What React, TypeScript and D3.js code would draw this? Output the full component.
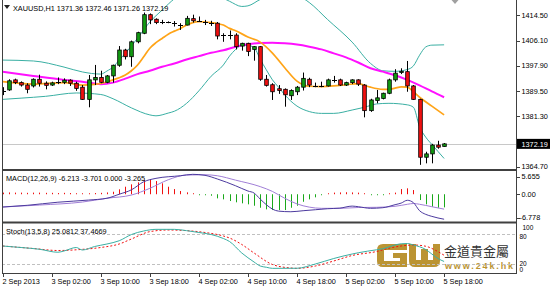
import React from "react";
import * as d3 from "d3";

const timeLabels = ["2 Sep 2013", "3 Sep 02:00", "3 Sep 10:00", "3 Sep 18:00", "4 Sep 02:00", "4 Sep 10:00", "4 Sep 18:00", "5 Sep 02:00", "5 Sep 10:00", "5 Sep 18:00"];
const timeLabelBars = [0, 8, 16, 24, 32, 40, 48, 56, 64, 72];

const open = [1389.7, 1389.9, 1393.2, 1392.3, 1391.5, 1391.2, 1393.4, 1392.1, 1391.5, 1392.6,
  1392.4, 1393.1, 1392.1, 1390.8, 1386.8, 1393.2, 1394.0, 1392.4, 1394.5, 1398.0,
  1403.0, 1400.8, 1405.7, 1408.5, 1414.6, 1413.1, 1412.1, 1412.1, 1411.8, 1411.2,
  1411.2, 1413.3, 1412.6, 1412.2, 1412.0, 1411.8, 1407.9, 1407.9, 1407.9, 1404.3,
  1405.2, 1403.2, 1404.1, 1393.4, 1391.6, 1390.3, 1390.1, 1388.0, 1389.3, 1390.8,
  1393.4, 1391.2, 1391.3, 1391.2, 1393.2, 1393.2, 1391.5, 1392.3, 1393.2, 1391.5,
  1383.1, 1386.4, 1387.1, 1388.8, 1393.2, 1395.6, 1395.9, 1391.2, 1386.8, 1367.8,
  1368.9, 1371.8, 1371.36];
const high = [1390.8, 1393.4, 1393.6, 1392.7, 1392.1, 1393.7, 1394.9, 1392.7, 1392.6, 1394.0,
  1393.7, 1393.4, 1392.6, 1391.5, 1394.8, 1398.1, 1396.2, 1394.8, 1398.2, 1404.3,
  1403.4, 1406.1, 1409.0, 1415.3, 1415.0, 1413.4, 1412.9, 1412.4, 1412.5, 1411.8,
  1414.2, 1414.6, 1414.0, 1412.9, 1412.6, 1412.2, 1408.5, 1409.4, 1408.5, 1405.4,
  1405.4, 1404.3, 1404.3, 1394.8, 1392.1, 1391.5, 1390.4, 1390.1, 1391.2, 1395.6,
  1393.9, 1392.3, 1392.6, 1393.6, 1394.5, 1393.6, 1392.6, 1393.4, 1393.4, 1391.8,
  1387.0, 1389.9, 1389.0, 1393.6, 1396.7, 1397.0, 1399.4, 1391.5, 1387.0, 1369.6,
  1372.2, 1373.2, 1372.46];
const low = [1388.2, 1389.6, 1391.8, 1391.0, 1388.8, 1390.7, 1391.0, 1390.1, 1391.2, 1391.8,
  1391.8, 1391.2, 1389.6, 1386.6, 1384.2, 1391.5, 1392.1, 1392.1, 1392.3, 1397.5,
  1399.9, 1397.5, 1405.2, 1408.2, 1411.5, 1411.5, 1411.5, 1411.8, 1410.7, 1409.6,
  1411.1, 1412.0, 1412.2, 1411.2, 1410.9, 1406.5, 1405.7, 1406.5, 1403.2, 1402.8,
  1401.0, 1399.5, 1392.9, 1391.0, 1386.6, 1388.6, 1384.4, 1386.6, 1388.2, 1389.7,
  1390.8, 1390.8, 1390.8, 1391.0, 1392.3, 1391.2, 1391.2, 1391.8, 1391.2, 1380.9,
  1382.7, 1385.5, 1386.8, 1388.5, 1392.6, 1395.1, 1389.3, 1386.6, 1365.3, 1365.8,
  1365.8, 1370.6, 1371.26];
const close = [1389.6, 1392.9, 1392.3, 1391.5, 1390.1, 1393.4, 1392.1, 1391.4, 1392.2, 1392.7,
  1393.1, 1392.1, 1390.4, 1386.8, 1393.2, 1394.0, 1392.4, 1394.5, 1398.0, 1403.0,
  1400.8, 1405.7, 1408.7, 1414.6, 1412.9, 1412.0, 1412.0, 1412.1, 1411.7, 1411.2,
  1413.4, 1412.6, 1412.7, 1412.2, 1411.9, 1407.6, 1408.0, 1407.9, 1404.1, 1405.2,
  1402.5, 1404.1, 1393.4, 1391.4, 1389.3, 1389.7, 1388.3, 1389.7, 1390.8, 1393.7,
  1391.5, 1391.2, 1391.4, 1393.2, 1393.1, 1391.5, 1392.3, 1393.2, 1391.8, 1383.1,
  1386.6, 1387.3, 1388.8, 1393.2, 1395.4, 1396.0, 1391.2, 1386.8, 1367.8, 1368.9,
  1371.8, 1371.1, 1372.19];

// indicator readings: [bar index, value]
const maFast = [[0, 1392.6], [5, 1391.8], [10, 1392.3], [13, 1391.5], [15, 1391.7], [17, 1392.5], [18, 1393.2], [19, 1393.9], [20, 1394.8], [21, 1396.2], [22, 1398.1], [23, 1400.8], [24, 1403.6], [25, 1405.4], [26, 1406.8], [27, 1408.2], [28, 1409.2], [29, 1410.1], [30, 1411.2], [31, 1412.0], [32, 1412.3], [33, 1412.2], [34, 1412.0], [35, 1411.7], [36, 1411.2], [37, 1410.1], [38, 1409.3], [40, 1407.3], [42, 1405.6], [44, 1402.0], [46, 1397.2], [48, 1392.8], [50, 1391.1], [52, 1391.0], [54, 1391.2], [56, 1391.6], [58, 1392.0], [59, 1391.4], [60, 1390.8], [62, 1390.1], [63, 1390.1], [64, 1390.5], [65, 1390.9], [66, 1390.8], [67, 1389.3], [68, 1387.5], [70, 1384.6], [72, 1381.7]];
const maSlow = [[0, 1395.9], [5, 1394.5], [10, 1393.2], [13, 1392.6], [16, 1391.8], [18, 1392.3], [20, 1393.6], [22, 1395.1], [24, 1396.2], [26, 1397.5], [28, 1398.6], [30, 1399.9], [32, 1401.0], [34, 1402.1], [36, 1402.9], [38, 1404.1], [40, 1404.9], [42, 1405.3], [44, 1405.4], [46, 1405.2], [48, 1404.8], [50, 1404.1], [52, 1403.2], [54, 1401.9], [56, 1400.6], [58, 1398.9], [60, 1397.0], [62, 1395.9], [64, 1394.7], [66, 1393.2], [68, 1391.4], [70, 1389.4], [72, 1387.5]];
const bandUpper = [[0, 1399.7], [5, 1399.4], [10, 1397.4], [13, 1395.8], [16, 1395.1], [17, 1396.1], [18, 1397.4], [19, 1399.7], [20, 1401.9], [22, 1406.9], [24, 1412.2], [26, 1416.1], [28, 1419.8], [31, 1422.6], [34, 1421.8], [37, 1419.0], [39, 1417.3], [40, 1417.5], [42, 1419.6], [45, 1422.0], [48, 1421.0], [50, 1418.6], [53, 1413.0], [57, 1405.6], [60, 1398.6], [62, 1396.2], [64, 1396.0], [66, 1396.6], [67, 1397.8], [68, 1401.3], [69, 1404.0], [70, 1404.6], [72, 1404.7]];
const bandLower = [[0, 1386.8], [3, 1387.2], [7, 1387.8], [12, 1388.9], [16, 1388.4], [18, 1387.0], [21, 1384.0], [24, 1381.7], [25, 1381.4], [27, 1382.3], [28, 1382.9], [30, 1385.5], [32, 1389.6], [34, 1394.4], [36, 1398.1], [37, 1401.0], [38, 1403.2], [39, 1404.5], [40, 1404.5], [41, 1403.8], [42, 1400.0], [43, 1396.5], [44, 1393.2], [45, 1390.8], [46, 1388.3], [48, 1384.6], [50, 1382.8], [52, 1382.2], [54, 1382.2], [57, 1383.3], [59, 1384.2], [61, 1385.3], [63, 1385.5], [66, 1385.0], [67, 1384.2], [68, 1377.8], [69, 1374.4], [70, 1372.0], [71, 1369.7], [72, 1367.4]];

const macdMain = [[0, -3.18], [4, -2.75], [9, -1.98], [14, -1.45], [17, -1.0], [19, 0.0], [21, 1.1], [23, 3.1], [25, 3.95], [29, 4.6], [31, 4.95], [33, 4.7], [35, 3.8], [38, 2.1], [40, 0.8], [41, 0.3], [42, -1.2], [43, -2.6], [44, -3.7], [45, -4.2], [47, -4.35], [49, -4.1], [51, -3.85], [53, -3.6], [55, -3.45], [57, -2.95], [58, -3.1], [60, -3.5], [62, -3.35], [64, -2.6], [65, -2.2], [66, -1.5], [67, -2.1], [68, -4.1], [69, -5.0], [70, -5.5], [71, -5.9], [72, -6.213]];
const macdSignal = [[0, -3.18], [6, -2.69], [13, -1.94], [17, -1.0], [21, -0.2], [24, 1.47], [27, 3.6], [30, 4.78], [33, 4.85], [35, 4.6], [38, 3.5], [42, 1.9], [44, 0.7], [46, -1.0], [48, -2.4], [50, -3.2], [52, -3.5], [55, -3.5], [58, -3.3], [61, -3.25], [64, -3.0], [66, -2.5], [67, -2.3], [68, -2.5], [70, -3.1], [72, -3.701]];
const macdHist = [0.4, 0.45, 0.4, 0.4, 0.35, 0.4, 0.4, 0.35, 0.35, 0.3, 0.35, 0.3, 0.25, 0.0, 0.05, 0.3, 0.35, 0.45, 0.62, 1.22,
  1.87, 2.46, 2.96, 3.53, 3.78, 3.28, 2.71, 1.87, 1.29, 0.8, 0.47, 0.22, -0.1, -0.15, -0.37, -1.02, -1.27, -1.69, -2.01, -2.26,
  -2.51, -2.86, -3.36, -3.76, -3.93, -3.93, -3.93, -3.36, -2.86, -1.87, -1.27, -0.77, -0.15, 0.2, 0.4, 0.45, 0.5, 0.45, 0.4, 0.1,
  -0.1, -0.15, -0.1, 0.1, 0.4, 1.29, 1.47, 1.04, -1.44, -2.51, -3.11, -3.36, -3.265];

const stochMain = [[0, 56], [3, 53], [6, 49.5], [9, 43.5], [10, 46], [12, 53], [13, 48], [15, 55], [17, 60], [19, 66.5], [21, 79], [23, 86], [25, 89.3], [28, 89.3], [30, 86.7], [32, 83], [34, 79], [36, 71], [37, 65], [39, 42], [41, 24], [42, 16], [43, 13.5], [44, 11.3], [48, 11.5], [51, 20], [54, 31], [57, 40], [58, 42.5], [61, 48.5], [62, 50.5], [64, 58], [65, 60.5], [66, 61], [67, 58], [69, 49], [70, 40], [71, 31], [72, 25.08]];
const stochSignal = [[0, 56], [5, 51], [9, 47], [13, 49.3], [16, 53], [19, 60], [21, 70], [24, 84.7], [27, 88], [30, 86.7], [33, 83], [36, 76], [37, 72], [39, 59], [41, 42], [44, 19], [47, 12], [48, 11.3], [51, 16], [54, 26], [57, 37], [61, 45], [63, 51.5], [65, 56], [67, 58], [69, 55.5], [71, 44.7], [72, 37.47]];

const priceTicks = [1414.5, 1406.1, 1397.9, 1389.5, 1381.3, 1364.7];
const lastPrice = 1372.19;
const macdTicks = [5.655, 0, -6.778];
const macdTickLabels = ["5.655", "0.00", "-6.778"];

const FONT = "'Liberation Sans', Arial, sans-serif";
const GREEN = "#129a12";
const RED = "#f01010";
const TEAL = "#3aafa3";

export default function App() {
  const x = d3.scaleLinear().domain([0, 72]).range([2.7, 444.1]);
  const yP = d3.scaleLinear().domain([1363.94, 1419.42]).range([169, 0]);
  const yM = d3.scaleLinear().domain([-6.778, 5.655]).range([221.5, 171.5]);
  const yS = d3.scaleLinear().domain([0, 100]).range([274, 224]);

  const mk = (ys: any) => d3.line<number[]>().x((d) => x(d[0])).y((d) => ys(d[1])).curve(d3.curveMonotoneX);
  const lineP = mk(yP);
  const lineM = mk(yM);
  const lineS = mk(yS);

  const px = (i: number) => Math.round(x(i)) + 0.5;

  return (
    <div style={{ position: "absolute", left: 0, top: 0 }}>
      <svg width={550} height={288} style={{ display: "block", background: "#fff" }} fontFamily={FONT} fontSize={7.3}>
        <defs>
          <clipPath id="cMain"><rect x={2.5} y={0} width={514} height={169} /></clipPath>
          <clipPath id="cMacd"><rect x={2.5} y={171.5} width={514} height={50} /></clipPath>
          <clipPath id="cSto"><rect x={2.5} y={223.5} width={514} height={50} /></clipPath>
        </defs>
        <rect x={0} y={0} width={550} height={288} fill="#fff" />

        {/* main panel */}
        <g clipPath="url(#cMain)">
          <line x1={2} x2={516} y1={Math.round(yP(lastPrice)) + 0.5} y2={Math.round(yP(lastPrice)) + 0.5} stroke="#c8c8c8" />
          <path d={lineP(bandUpper as any) || ""} fill="none" stroke={TEAL} strokeWidth={1} />
          <path d={lineP(bandLower as any) || ""} fill="none" stroke={TEAL} strokeWidth={1} />
          <path d={lineP(maSlow as any) || ""} fill="none" stroke="#ff10ff" strokeWidth={2} />
          <path d={lineP(maFast as any) || ""} fill="none" stroke="#ffa418" strokeWidth={1.7} />
          {open.map((o, i) => {
            const c = close[i];
            const cx = px(i);
            const doji = Math.abs(c - o) < 0.2;
            const top = yP(Math.max(o, c));
            const bot = yP(Math.min(o, c));
            return (
              <g key={i}>
                <line x1={cx} x2={cx} y1={yP(high[i])} y2={yP(low[i])} stroke="#000" strokeWidth={1} />
                {doji ? (
                  <line x1={cx - 2.5} x2={cx + 2.5} y1={Math.round(yP(o)) + 0.5} y2={Math.round(yP(o)) + 0.5} stroke="#000" strokeWidth={1} />
                ) : (
                  <rect x={cx - 1.8} y={top} width={3.6} height={Math.max(1, bot - top)} fill={c > o ? GREEN : RED} stroke="#000" strokeWidth={0.8} />
                )}
              </g>
            );
          })}
        </g>
        <polygon points="4,5 10,5 7,9" fill="#222" />
        <text x={13} y={10.5} fill="#000">XAUUSD,H1  1371.36 1372.46 1371.26 1372.19</text>
        <polygon points="451.5,0 458.5,0 455,4" fill="#a0a0a0" />

        {/* MACD panel */}
        <g clipPath="url(#cMacd)">
          {macdHist.map((v, i) => {
            const y0 = yM(0);
            let y1 = yM(v);
            if (Math.abs(y1 - y0) < 1) y1 = v >= 0 ? y0 - 1 : y0 + 1;
            return <line key={i} x1={px(i)} x2={px(i)} y1={y0} y2={y1} stroke={v >= 0 ? RED : "#1aa81a"} strokeWidth={1} />;
          })}
          <path d={lineM(macdSignal as any) || ""} fill="none" stroke="#a07ed6" strokeWidth={1} />
          <path d={lineM(macdMain as any) || ""} fill="none" stroke="#4c3a9e" strokeWidth={1} />
        </g>
        <text x={6} y={181} fill="#000">MACD(12,26,9) -6.213 -3.701 0.000 -3.265</text>

        {/* Stoch panel */}
        <g fill="#bb9433">
          <path d="M383,244 H407 V250 H384 V261 H400 V258 H393 V253 H407 V267 H383 Q377,267 377,261 V250 Q377,244 383,244 Z" />
          <path d="M409,244 H416 V260 H421 V249 H428 V260 H433 V244 H440 V261 Q440,267 434,267 H415 Q409,267 409,261 Z" />
        </g>
        <text x={444} y={255.5} fontSize={13} fontFamily="'Noto Sans CJK TC', 'Noto Sans CJK SC', sans-serif" fill="#333">金道貴金屬</text>
        <text x={445} y={268.5} fontSize={9} fontWeight="bold" fill="#bb9433" textLength={68} lengthAdjust="spacing">www.24k.hk</text>
        <g clipPath="url(#cSto)">
          {[80, 20].map((v) => (
            <line key={v} x1={2} x2={516} y1={Math.round(yS(v)) + 0.5} y2={Math.round(yS(v)) + 0.5} stroke="#c0c0c0" strokeDasharray="3,2" />
          ))}
          <path d={lineS(stochSignal as any) || ""} fill="none" stroke={RED} strokeWidth={1} strokeDasharray="2,2" />
          <path d={lineS(stochMain as any) || ""} fill="none" stroke={TEAL} strokeWidth={1} />
        </g>
        <text x={6} y={234} fill="#000">Stoch(13,5,8) 25.0812 37.4669</text>

        {/* frames */}
        <line x1={2.5} x2={2.5} y1={0} y2={274} stroke="#404040" />
        <line x1={516.5} x2={516.5} y1={0} y2={274} stroke="#404040" />
        <rect x={2} y={169} width={515} height={2} fill="#404040" />
        <rect x={2} y={221.5} width={515} height={2} fill="#404040" />
        <line x1={2} x2={517} y1={273.5} y2={273.5} stroke="#404040" />

        {/* price axis */}
        {priceTicks.map((p) => (
          <g key={p}>
            <line x1={517} x2={520} y1={Math.round(yP(p)) + 0.5} y2={Math.round(yP(p)) + 0.5} stroke="#404040" />
            <text x={521.5} y={yP(p) + 2.7} fill="#000">{p.toFixed(2)}</text>
          </g>
        ))}
        <rect x={517} y={yP(lastPrice) - 5} width={33} height={10} fill="#000" />
        <text x={521.5} y={yP(lastPrice) + 2.7} fill="#fff">{lastPrice.toFixed(2)}</text>

        {/* macd axis */}
        {macdTicks.map((v, i) => {
          const ty = i === 0 ? yM(v) + 5 : i === 2 ? yM(v) - 4 : yM(v);
          return (
            <g key={v}>
              <line x1={517} x2={520} y1={Math.round(ty) + 0.5} y2={Math.round(ty) + 0.5} stroke="#404040" />
              <text x={i === 2 ? 519.5 : 521.5} y={ty + 2.7} fill="#000">{macdTickLabels[i]}</text>
            </g>
          );
        })}

        {/* stoch axis */}
        <text x={522.5} y={yS(100) + 5.5} fill="#000" fontSize={6.5}>100</text>
        <text x={519.5} y={yS(80) + 4.5} fill="#000" fontSize={6.5}>80</text>
        <text x={519.5} y={yS(20) + 1.5} fill="#000" fontSize={6.5}>20</text>
        <text x={519.5} y={yS(0) - 2} fill="#000" fontSize={6.5}>0</text>

        {/* time axis */}
        {timeLabelBars.map((b, i) => (
          <g key={b}>
            <line x1={px(b)} x2={px(b)} y1={274} y2={277} stroke="#404040" />
            <text x={px(b) - 1} y={284} fill="#000">{timeLabels[i]}</text>
          </g>
        ))}
      </svg>
    </div>
  );
}
